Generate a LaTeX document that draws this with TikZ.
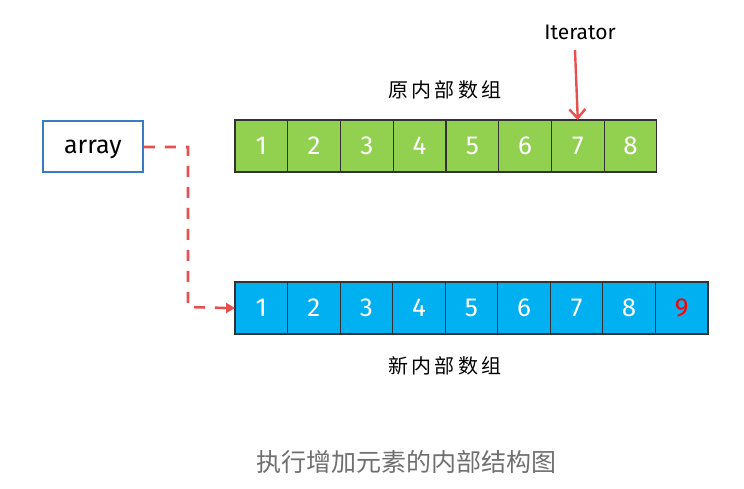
\documentclass[tikz,border=0pt]{standalone}
\usepackage{fontspec}
\setmainfont{Fira Sans}
\newfontfamily\cjk{Noto Sans CJK SC}
\usetikzlibrary{arrows.meta}
\definecolor{cellgreen}{HTML}{92D050}
\definecolor{cellblue}{HTML}{00B0F0}
\definecolor{boxblue}{HTML}{3A7CC4}
\definecolor{dashred}{HTML}{E8504F}
\definecolor{capgray}{HTML}{707070}
\tikzset{
  cell/.style={draw=black!80, line width=1.2pt, minimum width=52.6pt, minimum height=52pt, inner sep=0pt, outer sep=0pt, font=\fontsize{26}{26}\selectfont, text=white},
  gcell/.style={cell, fill=cellgreen},
  bcell/.style={cell, fill=cellblue},
  label/.style={font=\cjk\fontsize{20}{20}\selectfont, text=black},
  link/.style={draw=dashred, line width=2.6pt, dash pattern=on 11pt off 10pt},
}
\begin{document}
\begin{tikzpicture}[x=1pt,y=-1pt]
\useasboundingbox[fill=white] (0,0) rectangle (744,489);
% original array
\foreach \i in {1,...,8} {
  \node[gcell, anchor=north west] (g\i) at ({235+(\i-1)*52.75},120) {\i};
}
% new array
\foreach \i in {1,...,8} {
  \node[bcell, anchor=north west] (b\i) at ({235+(\i-1)*52.55},282) {\i};
}
\node[bcell, anchor=north west, text=red] (b9) at ({235+8*52.55},282) {9};
% array box
\node[draw=boxblue, line width=2pt, minimum width=100pt, minimum height=51pt, inner sep=0pt, text depth=0pt, font=\fontsize{25}{25}\selectfont] (arr) at (92.8,147) {array};
% labels
\node[label] (oldlab) at (445,90) {原\,内\,部\,数\,组};
\node[label] (newlab) at (445,366) {新\,内\,部\,数\,组};
\node[font=\fontsize{21}{21}\selectfont] (iter) at (580,32) {Iterator};
\coordinate (itop) at (575,50);
\draw[dashred, line width=2.4pt, -{Straight Barb[length=9pt,width=16pt,line width=2.4pt]}] (itop) -- (g7.north);
% dashed connector
\coordinate (bend1) at (188,147);
\coordinate (bend2) at (188,307);
\draw[link] (arr.east) -- (bend1) -- (bend2) -- ([xshift=-10pt]b1.west);
\draw[dashred, line width=2.6pt, -{Triangle[length=9pt,width=10pt]}] ([xshift=-12pt]b1.west) -- (b1.west);
% caption
\node[font=\cjk\fontsize{25}{25}\selectfont, text=capgray] (cap) at (406,462) {执行增加元素的内部结构图};
\end{tikzpicture}
\end{document}
